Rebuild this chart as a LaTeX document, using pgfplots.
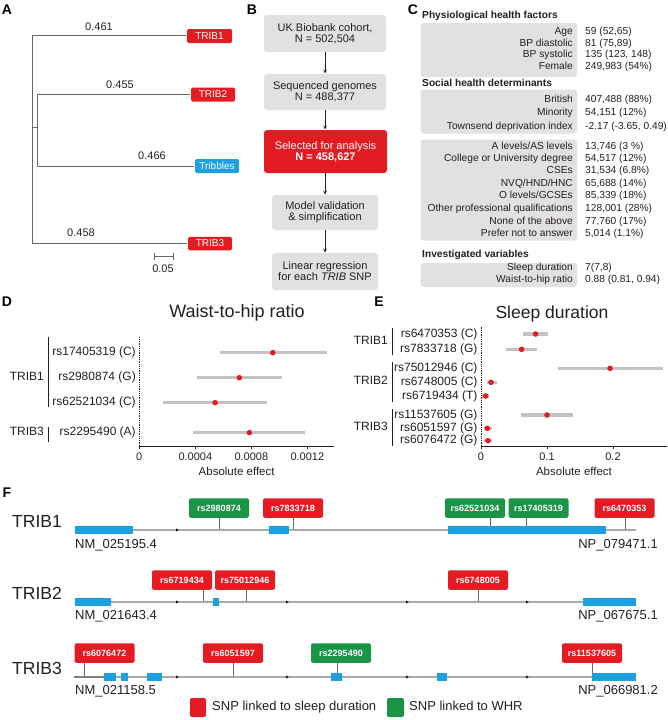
\documentclass[border=0pt]{standalone}
\usepackage{pgfplots}
\pgfplotsset{compat=1.18}
\usepackage{pgfplotstable}
\usepackage{fontspec}
\setmainfont{Liberation Sans}
\definecolor{snpred}{HTML}{E31B23}
\definecolor{snpgreen}{HTML}{1C9446}
\definecolor{exonblue}{HTML}{1BA1E2}
\definecolor{boxgray}{HTML}{E3E1DF}
\definecolor{txt}{HTML}{231F20}
\definecolor{cigray}{HTML}{C2C2C2}
\definecolor{genegray}{HTML}{ABABAB}
\definecolor{treegray}{HTML}{666666}
\newcommand{\fs}[1]{\fontsize{#1}{#1}\selectfont}

% Waist-to-hip ratio: y position, estimate, CI low, CI high
\pgfplotstableread{
y est lo hi
367.3 0.000953 0.000576 0.00134
342.3 0.000714 0.000414 0.001017
317.3 0.000541 0.000171 0.00091
287.3 0.000786 0.000386 0.001184
}\whrdata
% Sleep duration
\pgfplotstableread{
y est lo hi
386   0.0828 0.064  0.101
370.7 0.0616 0.0379 0.0843
351.7 0.1955 0.117  0.276
337.7 0.0152 0.0086 0.0237
324   0.0071 0.002  0.0121
305   0.1000 0.060  0.140
291.7 0.0096 0.004  0.016
279.3 0.0106 0.005  0.016
}\sleepdata

\newcommand{\snp}[6]{%
  \draw[treegray, line width=0.6pt] (#4,#2) -- (#4,#3);
  \node[fill=#5, rounded corners=2pt, minimum width=60pt, minimum height=19.5pt, inner sep=0pt, anchor=south, text=white, font=\fs{9}\bfseries] at (#1,#2) {#6};
}
\newcommand{\crow}[3]{%
  \node[anchor=mid east, font=\fs{10.2}, text=txt, inner sep=0pt] at (573,#1) {#2};
  \node[anchor=mid west, font=\fs{10.2}, text=txt, inner sep=0pt] at (585,#1) {#3};
}

\begin{document}
\begin{tikzpicture}
\useasboundingbox (0,0) rectangle (668pt,720pt);
\begin{axis}[at={(0pt,0pt)}, anchor=south west, width=668pt, height=720pt, scale only axis,
  xmin=0, xmax=668, ymin=0, ymax=720, y dir=reverse, hide axis, clip=false]
% panel letters
\node[font=\fs{14}\bfseries] at (7,10) {A};
\node[font=\fs{14}\bfseries] at (252,10) {B};
\node[font=\fs{14}\bfseries] at (413,10) {C};
\node[font=\fs{14}\bfseries] at (7,302) {D};
\node[font=\fs{14}\bfseries] at (379,302) {E};
\node[font=\fs{14}\bfseries] at (7,493) {F};

% ---- A: tree ----
\addplot[treegray, line width=0.8pt] coordinates {(32,35) (32,243)};
\addplot[treegray, line width=0.8pt] coordinates {(32,35) (186,35)};
\addplot[treegray, line width=0.8pt] coordinates {(32,127) (37,127)};
\addplot[treegray, line width=0.8pt] coordinates {(37,94) (37,166)};
\addplot[treegray, line width=0.8pt] coordinates {(37,94) (190,94)};
\addplot[treegray, line width=0.8pt] coordinates {(37,166) (194,166)};
\addplot[treegray, line width=0.8pt] coordinates {(32,243) (187,243)};
\addplot[treegray, line width=0.8pt] coordinates {(154,256) (173,256)};
\addplot[treegray, line width=0.8pt] coordinates {(154,252.5) (154,259.5)};
\addplot[treegray, line width=0.8pt] coordinates {(173,252.5) (173,259.5)};
\node[font=\fs{11}, text=txt] at (99,27) {0.461};
\node[font=\fs{11}, text=txt] at (120,85) {0.455};
\node[font=\fs{11}, text=txt] at (152,156) {0.466};
\node[font=\fs{11}, text=txt] at (81,233) {0.458};
\node[font=\fs{11}, text=txt] at (163,269) {0.05};
\node[fill=snpred, rounded corners=1.5pt, minimum width=45pt, minimum height=14pt, inner sep=0pt, text=white, font=\fs{10}] at (209.5,36) {TRIB1};
\node[fill=snpred, rounded corners=1.5pt, minimum width=44pt, minimum height=14pt, inner sep=0pt, text=white, font=\fs{10}] at (213,94.5) {TRIB2};
\node[fill=exonblue, rounded corners=1.5pt, minimum width=44pt, minimum height=14pt, inner sep=0pt, text=white, font=\fs{10}] at (217,166) {Tribbles};
\node[fill=snpred, rounded corners=1.5pt, minimum width=44pt, minimum height=13.5pt, inner sep=0pt, text=white, font=\fs{10}] at (210,243.5) {TRIB3};

% ---- B: flow chart ----
\node[fill=boxgray, rounded corners=3pt, minimum width=122pt, minimum height=37pt, inner sep=0pt, align=center, font=\fs{11}, text=txt] at (325,33.5) {\fontsize{11}{15}\selectfont UK Biobank cohort,\\N = 502,504};
\node[fill=boxgray, rounded corners=3pt, minimum width=122pt, minimum height=36pt, inner sep=0pt, align=center, font=\fs{11}, text=txt] at (325,92) {\fontsize{11}{15}\selectfont Sequenced genomes\\N = 488,377};
\node[fill=snpred, rounded corners=3pt, minimum width=123pt, minimum height=43pt, inner sep=0pt, align=center, font=\fs{11}, text=white] at (325.5,151.5) {\fontsize{11}{15}\selectfont Selected for analysis\\\textbf{N = 458,627}};
\node[fill=boxgray, rounded corners=3pt, minimum width=106pt, minimum height=35pt, inner sep=0pt, align=center, font=\fs{11}, text=txt] at (325,212.5) {\fontsize{11}{15}\selectfont Model validation\\\& simplification};
\node[fill=boxgray, rounded corners=3pt, minimum width=106pt, minimum height=37pt, inner sep=0pt, align=center, font=\fs{11}, text=txt] at (325,271.5) {\fontsize{11}{15}\selectfont Linear regression\\for each \textit{TRIB} SNP};
\draw[-stealth, txt, line width=0.7pt] (325,52) -- (325,73.5);
\draw[-stealth, txt, line width=0.7pt] (325,110) -- (325,129.5);
\draw[-stealth, txt, line width=0.7pt] (325,173) -- (325,194.5);
\draw[-stealth, txt, line width=0.7pt] (325,230) -- (325,252.5);

% ---- C: table ----
\node[anchor=mid west, font=\fs{10.2}\bfseries, text=txt, inner sep=0pt] at (422,16) {Physiological health factors};
\fill[boxgray, rounded corners=3pt] (420.5,23) rectangle (577,77);
\crow{32}{Age}{59 (52,65)}
\crow{43.5}{BP diastolic}{81 (75,89)}
\crow{55}{BP systolic}{135 (123, 148)}
\crow{67}{Female}{249,983 (54\%)}
\node[anchor=mid west, font=\fs{10.2}\bfseries, text=txt, inner sep=0pt] at (422,83.5) {Social health determinants};
\fill[boxgray, rounded corners=3pt] (420.5,89.5) rectangle (577,133.5);
\crow{100}{British}{407,488 (88\%)}
\crow{112.7}{Minority}{54,151 (12\%)}
\crow{126.5}{Townsend deprivation index}{-2.17 (-3.65, 0.49)}
\fill[boxgray, rounded corners=3pt] (420.5,139.5) rectangle (577,240.5);
\crow{146.5}{A levels/AS levels}{13,746 (3 \%)}
\crow{159}{College or University degree}{54,517 (12\%)}
\crow{171.2}{CSEs}{31,534 (6.8\%)}
\crow{183.5}{NVQ/HND/HNC}{65,688 (14\%)}
\crow{196}{O levels/GCSEs}{85,339 (18\%)}
\crow{209}{Other professional qualifications}{128,001 (28\%)}
\crow{221.5}{None of the above}{77,760 (17\%)}
\crow{233.5}{Prefer not to answer}{5,014 (1.1\%)}
\node[anchor=mid west, font=\fs{10.2}\bfseries, text=txt, inner sep=0pt] at (422,255) {Investigated variables};
\fill[boxgray, rounded corners=3pt] (420.5,263) rectangle (577,287);
\crow{267.5}{Sleep duration}{7(7,8)}
\crow{279.5}{Waist-to-hip ratio}{0.88 (0.81, 0.94)}

% ---- D / E decorations ----
\node[font=\fs{18}, text=txt] at (237,313) {Waist-to-hip ratio};
\node[font=\fs{17.5}, text=txt] at (552,314) {Sleep duration};
\draw[txt, line width=0.8pt] (48,337) -- (48,407);
\draw[txt, line width=0.8pt] (48,427) -- (48,442);
\node[anchor=mid east, font=\fs{12}, text=txt, inner sep=0pt] at (44,377.7) {TRIB1};
\node[anchor=mid east, font=\fs{12}, text=txt, inner sep=0pt] at (44,432.7) {TRIB3};
\draw[txt, line width=0.8pt] (392,328) -- (392,355);
\draw[txt, line width=0.8pt] (392,362) -- (392,402);
\draw[txt, line width=0.8pt] (392,409) -- (392,446);
\node[anchor=mid east, font=\fs{12}, text=txt, inner sep=0pt] at (388,341.7) {TRIB1};
\node[anchor=mid east, font=\fs{12}, text=txt, inner sep=0pt] at (388,382.3) {TRIB2};
\node[anchor=mid east, font=\fs{12}, text=txt, inner sep=0pt] at (388,428) {TRIB3};

% ---- F: gene structures ----
\node[anchor=mid west, font=\fs{17.5}, text=txt, inner sep=0pt] at (12,525) {TRIB1};
\node[anchor=mid west, font=\fs{17.5}, text=txt, inner sep=0pt] at (12,597) {TRIB2};
\node[anchor=mid west, font=\fs{17.5}, text=txt, inner sep=0pt] at (12,672) {TRIB3};
\node[anchor=mid west, font=\fs{13}, text=txt, inner sep=0pt] at (75,546) {NM\_025195.4};
\node[anchor=mid west, font=\fs{13}, text=txt, inner sep=0pt] at (75,617) {NM\_021643.4};
\node[anchor=mid west, font=\fs{13}, text=txt, inner sep=0pt] at (75,692) {NM\_021158.5};
\node[anchor=mid east, font=\fs{13}, text=txt, inner sep=0pt] at (658,546) {NP\_079471.1};
\node[anchor=mid east, font=\fs{13}, text=txt, inner sep=0pt] at (658,617) {NP\_067675.1};
\node[anchor=mid east, font=\fs{13}, text=txt, inner sep=0pt] at (658,692) {NP\_066981.2};

\snp{219}{518}{530}{219}{snpgreen}{rs2980874}
\snp{293}{518}{530}{293}{snpred}{rs7833718}
\snp{475}{518}{530}{490}{snpgreen}{rs62521034}
\snp{538.5}{518}{530}{526}{snpgreen}{rs17405319}
\snp{624.5}{518}{530}{625}{snpred}{rs6470353}
\snp{182}{590}{602}{203}{snpred}{rs6719434}
\snp{245}{590}{602}{246}{snpred}{rs75012946}
\snp{478}{590}{602}{478}{snpred}{rs6748005}
\snp{104.5}{663}{677}{84}{snpred}{rs6076472}
\snp{233}{663}{677}{233}{snpred}{rs6051597}
\snp{341}{663}{677}{337}{snpgreen}{rs2295490}
\snp{592}{663}{677}{592}{snpred}{rs11537605}

\addplot[genegray, line width=2pt] coordinates {(75,530) (636,530)};
\addplot[genegray, line width=2pt] coordinates {(75,602) (636,602)};
\addplot[genegray, line width=2pt] coordinates {(74,677) (636,677)};
\addplot[gray, line width=2pt] coordinates {(74,677) (104,677)};
\addplot[only marks, mark=triangle*, mark size=1.3pt, mark options={rotate=-90, fill=gray!75, draw=none}]
  coordinates {(177,530) (177,602) (287,602) (407,602) (527,602) (177,677) (287,677) (407,677) (527,677)};
\addplot[exonblue, line width=8pt, unbounded coords=jump] coordinates {(75,530) (133,530) (nan,nan) (269,530) (289,530) (nan,nan) (448,530) (606,530)};
\addplot[exonblue, line width=8pt, unbounded coords=jump] coordinates {(75,602) (111,602) (nan,nan) (213,602) (219,602) (nan,nan) (583,602) (636,602)};
\addplot[exonblue, line width=8pt, unbounded coords=jump] coordinates {(104,677) (116,677) (nan,nan) (121,677) (128,677) (nan,nan) (147,677) (162,677) (nan,nan) (331,677) (342,677) (nan,nan) (437,677) (447,677) (nan,nan) (592,677) (636,677)};

% legend
\node[fill=snpred, rounded corners=2pt, minimum width=16pt, minimum height=19pt, inner sep=0pt] at (198,707.5) {};
\node[anchor=mid west, font=\fs{13}, text=txt, inner sep=0pt] at (212,708) {SNP linked to sleep duration};
\node[fill=snpgreen, rounded corners=2pt, minimum width=17pt, minimum height=19pt, inner sep=0pt] at (395.5,707.5) {};
\node[anchor=mid west, font=\fs{13}, text=txt, inner sep=0pt] at (409,708) {SNP linked to WHR};
\end{axis}

% ---- D axis ----
\begin{axis}[at={(139.3pt,274pt)}, anchor=south west, scale only axis,
  width=194.7pt, height=109pt,
  xmin=0, xmax=0.00139, ymin=274, ymax=383,
  axis lines*=left, axis line style={-, line width=0.8pt, color=txt},
  y axis line style={densely dotted},
  xtick={0,0.0004,0.0008,0.0012}, xticklabels={0,0.0004,0.0008,0.0012}, scaled x ticks=false,
  ytick={367.3,342.3,317.3,287.3},
  yticklabels={rs17405319 (C),rs2980874 (G),rs62521034 (C),rs2295490 (A)},
  xtick align=outside, major tick length=3pt,
  xtick style={line width=0.8pt, color=txt}, ytick style={draw=none},
  xticklabel style={font=\fs{11}, text=txt}, yticklabel style={font=\fs{12}, text=txt},
  xlabel={Absolute effect}, xlabel style={font=\fs{11.5}, text=txt},
  clip=false]
\addplot[only marks, mark=none, error bars/.cd, x dir=both, x explicit, error mark=none,
  error bar style={line width=3.5pt, color=cigray}]
  table[x=est, y=y, x error plus expr=\thisrow{hi}-\thisrow{est}, x error minus expr=\thisrow{est}-\thisrow{lo}] {\whrdata};
\addplot[only marks, mark=*, mark size=2.5pt, mark options={draw=snpred, fill=snpred}] table[x=est, y=y] {\whrdata};
\end{axis}

% ---- E axis ----
\begin{axis}[at={(481pt,274pt)}, anchor=south west, scale only axis,
  width=186pt, height=119pt,
  xmin=0, xmax=0.2818, ymin=274, ymax=393,
  axis lines*=left, axis line style={-, line width=0.8pt, color=txt},
  y axis line style={densely dotted},
  xtick={0,0.1,0.2}, xticklabels={0,0.1,0.2},
  ytick={386,370.7,351.7,337.7,324,305,291.7,279.3},
  yticklabels={rs6470353 (C),rs7833718 (G),rs75012946 (C),rs6748005 (C),rs6719434 (T),rs11537605 (G),rs6051597 (G),rs6076472 (G)},
  xtick align=outside, major tick length=3pt,
  xtick style={line width=0.8pt, color=txt}, ytick style={draw=none},
  xticklabel style={font=\fs{11}, text=txt}, yticklabel style={font=\fs{12}, text=txt},
  xlabel={Absolute effect}, xlabel style={font=\fs{11.5}, text=txt},
  clip=false]
\addplot[only marks, mark=none, error bars/.cd, x dir=both, x explicit, error mark=none,
  error bar style={line width=3.5pt, color=cigray}]
  table[x=est, y=y, x error plus expr=\thisrow{hi}-\thisrow{est}, x error minus expr=\thisrow{est}-\thisrow{lo}] {\sleepdata};
\addplot[only marks, mark=*, mark size=2.5pt, mark options={draw=snpred, fill=snpred}] table[x=est, y=y] {\sleepdata};
\end{axis}
\end{tikzpicture}
\end{document}
